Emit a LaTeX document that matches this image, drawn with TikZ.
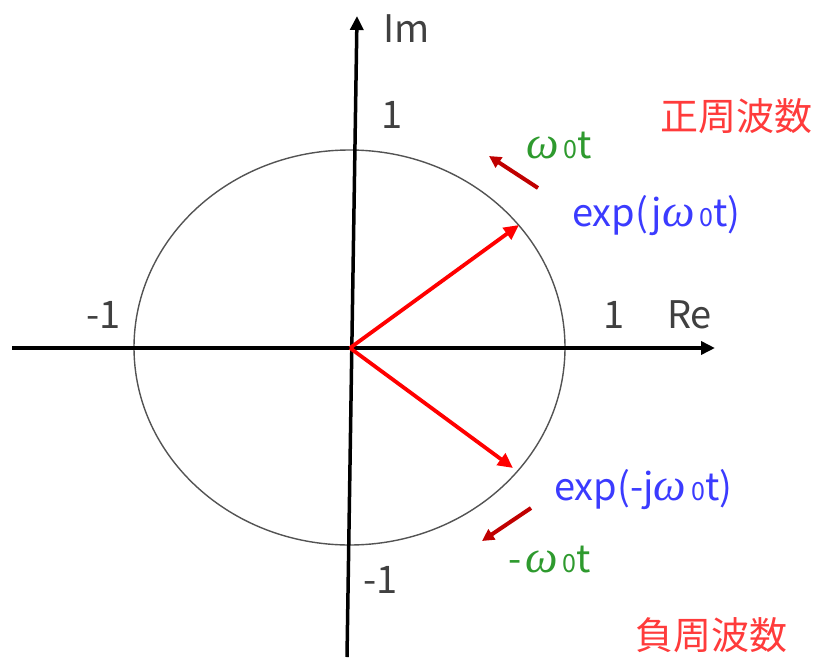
\documentclass[tikz,border=0pt]{standalone}
\usepackage{fontspec}
\setmainfont{Noto Sans CJK JP}
\newfontfamily\grkfont{Liberation Serif}
\usetikzlibrary{arrows.meta}
\definecolor{axgray}{HTML}{404040}
\definecolor{txtred}{HTML}{FF3B3B}
\definecolor{txtblue}{HTML}{3B3BFF}
\definecolor{txtgreen}{HTML}{2E9A2E}
\definecolor{darkred}{HTML}{C00000}
\newcommand{\wz}{{\grkfont\itshape\fontsize{46}{46}\selectfont ω}\kern5pt{\fontsize{25}{25}\selectfont 0}}
\tikzset{
  lbl/.style={inner sep=0pt, anchor=base west, font=\fontsize{38}{40}\selectfont},
  graylbl/.style={lbl, text=axgray},
  explbl/.style={lbl, text=txtblue},
  wlbl/.style={lbl, text=txtgreen},
  cjklbl/.style={inner sep=0pt, text=txtred, font=\fontsize{38}{40}\selectfont},
  axis/.style={line width=3.5pt, -{Triangle[length=14pt,width=13pt]}},
  phasor/.style={line width=3.8pt, red, -{Triangle[length=15pt,width=14pt]}},
  rotarrow/.style={line width=4pt, darkred, -{Triangle[length=12pt,width=12pt]}},
}
\begin{document}
\begin{tikzpicture}[x=1pt,y=-1pt]
\useasboundingbox (0,0) rectangle (817,659);
% coordinates
\coordinate (O) at (350,348);
\coordinate (xl) at (12,348);
\coordinate (xr) at (715,348);
\coordinate (yb) at (347,657);
\coordinate (yt) at (357,16);
\coordinate (p1) at (519,225);
\coordinate (p2) at (513,468);
\coordinate (r1a) at (538,188);
\coordinate (r1b) at (489,156);
\coordinate (r2a) at (531,508);
\coordinate (r2b) at (482,541);
% circle
\draw[line width=1.4pt, axgray!90] (349.5,347.5) ellipse [x radius=215.5, y radius=197.5];
% axes
\draw[axis] (xl) -- (xr);
\draw[axis] (yb) -- (yt);
% phasors
\draw[phasor] (O) -- (p1);
\draw[phasor] (O) -- (p2);
% rotation arrows
\draw[rotarrow] (r1a) -- (r1b);
\draw[rotarrow] (r2a) -- (r2b);
% labels
\node[graylbl] (im) at (383,42) {Im};
\node[graylbl] (one1) at (381,128) {1};
\node[graylbl] (mone1) at (86,328) {-1};
\node[graylbl] (one2) at (603,328) {1};
\node[graylbl] (re) at (667,328) {Re};
\node[graylbl] (mone2) at (363,593) {-1};
\node[cjklbl] (pos) at (736,116) {正周波数};
\node[cjklbl] (neg) at (711,635) {負周波数};
\node[wlbl] (w1) at (526,158) {\wz t};
\node[wlbl] (w2) at (508,572) {-\kern4pt\wz t};
\node[explbl] (e1) at (572,226) {exp(j\wz t)};
\node[explbl] (e2) at (554,500) {exp(-j\wz t)};
\end{tikzpicture}
\end{document}
